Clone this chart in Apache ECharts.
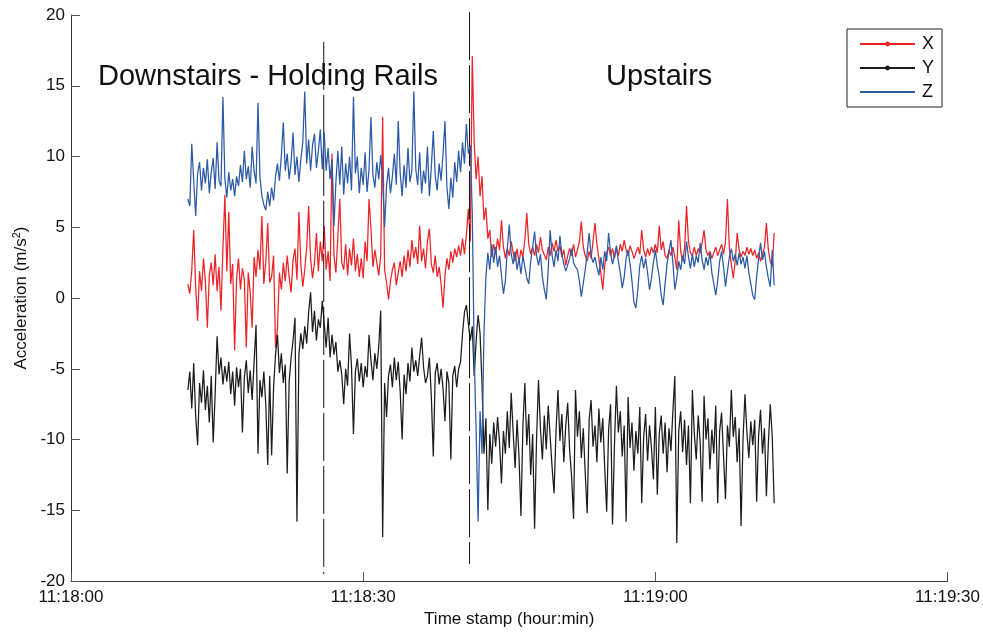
<!DOCTYPE html>
<html>
<head>
<meta charset="utf-8">
<script src="https://cdn.jsdelivr.net/npm/echarts@6/dist/echarts.min.js"></script>
<style>
html,body{margin:0;padding:0;background:#fff;}
#chart{width:983px;height:633px;}
</style>
</head>
<body>
<div id="chart"></div>
<script>
// sampling of the recorded signals (seconds after 11:18:00)
const sampleStart = 12.0;
const sampleStep = 0.2;

const accX = [
1.0, 0.3, 2.0, 4.8, 0.8, -1.6, 1.9, 0.5, 2.8, 1.2,
-2.1, 1.6, 2.5, 0.9, 3.1, 0.5, 2.2, -0.9, 3.5, 7.3,
1.9, 6.1, 1.0, 2.4, -3.7, 1.4, 2.8, 0.6, 2.1, 1.3,
-3.5, 1.8, 0.4, -2.1, 2.9, 1.5, 3.4, 2.0, 5.8, 1.0,
2.6, 5.3, 1.1, 1.5, 3.0, -3.5, -2.1, 1.8, 0.6, 2.5,
1.2, 3.0, 1.5, 0.4, 2.7, 3.5, 1.3, 6.1, 2.4, 0.8,
2.0, 3.6, 6.5, 2.8, 1.4, 2.5, 4.6, 1.9, 4.0, 2.6,
5.1, 2.0, 3.3, 1.2, 10.2, 3.0, 1.8, 4.4, 7.0, 2.5,
2.0, 3.8, 1.6, 3.5, 2.3, 4.2, 1.9, 3.1, 1.5, 2.8,
1.4, 4.0, 2.6, 7.0, 4.9, 2.2, 3.4, 2.5, 1.6, 3.0,
12.8, 2.0, 1.1, -0.1, 1.2, 2.0, 2.5, 0.9, 1.8, 2.6,
1.5, 3.0, 1.9, 3.4, 2.2, 4.1, 2.8, 3.6, 2.4, 5.1,
2.6, 3.5, 2.1, 4.0, 4.9, 2.4, 1.8, 3.0, 1.5, 2.2,
1.0, -0.7, 1.6, 2.8, 2.0, 3.3, 2.5, 3.5, 2.9, 3.7,
3.0, 4.2, 3.1, 4.5, 6.3, 4.0, 17.1, 11.0, 8.4, 10.0,
7.2, 8.6, 5.5, 6.4, 4.2, 4.8, 2.9, 3.8, 3.1, 4.2,
3.4, 5.5, 3.6, 2.8, 3.5, 3.0, 4.0, 3.2, 2.6, 3.5,
2.5, 3.4, 2.9, 4.1, 6.0, 3.8, 3.1, 3.6, 3.0, 3.8,
3.2, 4.3, 3.4, 3.5, 2.7, 3.6, 3.0, 3.9, 3.3, 4.1,
3.3, 3.7, 2.9, 3.4, 2.3, 3.0, 3.5, 3.0, 3.8, 2.9,
3.4, 4.0, 5.4, 3.6, 3.0, 2.6, 3.3, 2.8, 4.0, 5.3,
3.8, 2.8, 1.8, 0.6, 2.3, 3.2, 3.6, 3.0, 3.5, 2.8,
3.5, 3.0, 3.8, 3.3, 4.1, 3.4, 3.0, 3.7, 3.3, 2.8,
3.2, 3.6, 3.1, 4.8, 3.4, 2.9, 3.5, 3.0, 3.6, 3.2,
3.8, 3.2, 5.1, 3.4, 4.0, 3.0, 2.8, 3.4, 3.0, 3.6,
2.9, 2.0, 5.5, 3.3, 2.6, 3.5, 6.5, 4.0, 3.2, 3.0,
3.6, 3.0, 3.5, 3.2, 3.9, 4.8, 3.4, 3.0, 3.3, 2.8,
3.2, 3.6, 3.0, 3.4, 3.8, 3.1, 4.0, 7.0, 3.5, 2.4,
1.4, 2.6, 4.6, 3.4, 2.9, 3.3, 3.0, 3.6, 3.1, 3.5,
3.0, 3.4, 2.8, 3.2, 2.6, 3.1, 3.6, 5.3, 3.4, 2.6,
2.2, 4.6
];

const accY = [
-6.5, -5.2, -7.8, -4.6, -8.3, -10.4, -6.0, -7.4, -5.1, -7.9,
-6.2, -8.8, -5.5, -10.2, -6.8, -2.7, -5.4, -4.2, -6.1, -4.8,
-5.9, -4.5, -6.8, -5.2, -7.6, -4.9, -6.3, -5.0, -9.5, -5.6,
-4.4, -6.7, -5.1, -7.2, -4.5, -1.9, -11.0, -5.8, -7.0, -5.2,
-7.5, -11.8, -5.5, -11.1, -6.3, -4.0, -2.6, -5.3, -3.9, -6.0,
-4.7, -12.4, -5.9, -4.2, -3.0, -1.4, -15.8, -4.0, -2.5, -3.6,
-2.0, -3.2, -1.0, 0.4, -2.4, -0.9, -3.0, -1.5, -2.1, -0.2,
-1.8, -3.5, -1.4, -4.2, -2.6, -4.0, -3.1, -5.2, -4.4, -5.4,
-7.5, -5.0, -6.2, -2.5, -4.8, -9.6, -5.2, -4.3, -5.9, -4.6,
-6.3, -4.8, -5.6, -2.6, -4.4, -5.8, -3.9, -5.0, -3.4, -0.9,
-16.9, -6.0, -8.4, -5.5, -4.7, -6.3, -4.2, -5.8, -4.5, -6.6,
-10.0, -5.4, -6.8, -4.6, -5.9, -3.5, -5.2, -4.4, -5.5, -4.1,
-2.8, -4.9, -6.0, -5.5, -4.2, -7.0, -11.2, -5.3, -4.6, -6.1,
-5.0, -6.4, -8.7, -5.2, -6.0, -11.4, -5.5, -4.8, -6.3, -5.0,
-4.5, -2.5, -1.0, -0.5, -1.8, -3.0, -2.0, -5.5, -3.0, -1.2,
-2.5, -6.0, -11.0, -8.5, -15.0, -9.6, -11.7, -8.8, -10.5, -8.4,
-10.2, -13.1, -9.4, -11.0, -8.0, -10.6, -6.7, -9.5, -12.0, -8.6,
-11.2, -15.4, -9.0, -6.0, -10.4, -8.2, -12.5, -9.6, -16.3, -10.0,
-5.8, -9.2, -11.4, -8.3, -10.7, -7.6, -9.8, -12.0, -13.8, -9.4,
-6.5, -10.1, -8.2, -11.6, -9.0, -7.4, -10.8, -12.6, -15.6, -6.5,
-9.8, -8.0, -11.3, -9.2, -12.4, -15.2, -8.6, -7.2, -10.5, -9.0,
-11.6, -7.8, -10.2, -8.5, -12.0, -15.1, -9.3, -7.5, -16.0, -10.4,
-6.2, -9.5, -8.0, -11.2, -9.0, -15.8, -7.0, -10.6, -8.8, -12.2,
-9.4, -11.0, -7.7, -14.5, -9.8, -8.2, -11.5, -9.0, -10.6, -12.8,
-7.7, -13.9, -9.6, -8.3, -11.0, -8.8, -12.3, -9.2, -10.8, -8.0,
-5.5, -17.3, -9.4, -8.0, -10.9, -8.6, -11.8, -9.0, -14.5, -6.5,
-9.6, -11.4, -8.3, -10.2, -14.4, -6.9, -10.0, -8.5, -12.1, -9.3,
-11.0, -7.6, -14.5, -9.4, -8.1, -11.2, -14.2, -9.0, -10.5, -6.5,
-9.8, -8.4, -11.6, -9.2, -16.1, -10.0, -6.8, -9.5, -11.3, -8.7,
-10.4, -8.6, -14.4, -9.7, -7.9, -11.0, -9.2, -14.0, -10.3, -7.5,
-9.8, -14.5
];

const accZ = [
7.0, 6.5, 10.9, 8.3, 5.8, 8.8, 9.6, 7.6, 9.2, 8.1,
9.8, 7.4, 8.9, 9.9, 7.7, 11.0, 8.3, 7.9, 14.2, 8.4,
7.1, 8.9, 7.6, 8.4, 7.2, 8.6, 7.9, 9.4, 8.2, 10.4,
8.4, 9.3, 7.8, 10.7, 9.0, 8.1, 13.8, 8.6, 7.2, 6.6,
6.2, 7.5, 6.5, 7.8, 6.9, 8.6, 9.5, 8.3, 10.1, 12.4,
9.0, 10.2, 8.4, 9.6, 11.7, 8.7, 10.0, 8.2, 9.8, 11.0,
14.6, 9.5, 11.2, 9.0, 10.8, 11.6, 9.2, 10.4, 11.9, 9.1,
11.7, 9.0, 10.6, 8.4, 9.8, 5.1, 8.2, 10.4, 8.0, 10.7,
7.3, 9.5, 8.1, 10.0, 7.6, 14.2, 8.8, 10.0, 7.4, 9.2,
8.0, 10.3, 7.5, 9.1, 12.8, 8.7, 7.8, 9.6, 8.4, 10.1,
8.3, 5.0, 7.9, 9.2, 7.4, 8.6, 10.2, 8.0, 12.5, 8.8,
7.2, 9.4, 7.8, 10.6, 8.2, 9.0, 14.6, 9.1, 8.0, 10.3,
7.4, 9.0, 8.1, 10.7, 7.2, 9.3, 11.8, 8.6, 7.6, 9.5,
8.3, 10.2, 12.5, 7.8, 6.3, 8.5, 7.1, 9.6, 8.2, 10.4,
8.9, 11.0, 9.5, 12.3, 10.2, 10.8, 6.0, -4.0, -9.5, -15.8,
-8.0, -11.0, -2.5, 1.5, 3.2, 2.0, 3.8, 2.5, 3.6, 2.2,
3.0, 1.6, 0.3, 1.2, 3.5, 5.2, 3.1, 2.4, 3.3, 2.0,
2.8, 1.7, 3.0, 2.2, 1.4, 1.0, 2.6, 3.6, 4.7, 3.0,
2.3, 3.1, 1.5, 0.6, -0.1, 2.0, 4.8, 3.0, 2.2, 3.4,
2.6, 4.4, 3.1, 2.4, 1.9, 1.8, 2.8, 3.5, 2.5, 2.2,
2.0, 1.2, 0.1, 0.0, 2.0, 3.2, 4.6, 3.0, 2.5, 2.9,
2.2, 1.6, 2.9, 2.0, 3.3, 2.6, 4.6, 3.2, 2.4, 3.0,
3.7, 2.6, 1.8, 0.7, 1.5, 2.8, 3.4, 2.4, 1.2, -0.3,
-0.7, 0.6, 2.3, 3.0, 2.1, 2.8, 1.8, 0.6, 1.4, 2.5,
3.4, 2.3, 1.5, 0.2, -0.5, 1.0, 2.4, 3.3, 4.1, 2.5,
0.6, 1.4, 2.6, 2.0, 3.0, 2.4, 4.0, 2.9, 2.1, 3.1,
2.2, 3.0, 2.5, 3.9, 2.7, 2.0, 2.9, 2.3, 3.2, 1.8,
1.0, 0.2, 1.2, 2.6, 3.3, 2.2, 0.8, 1.9, 2.9, 3.5,
2.6, 3.1, 2.3, 3.2, 2.4, 2.9, 2.1, 3.0, 1.8, 1.0,
0.2, -0.1, 1.5, 2.8, 3.9, 2.7, 3.3, 2.2, 1.4, 0.8,
3.4, 0.9
];

// vertical event marker lines (time in s after 11:18:00, top and bottom values)
const markerTimes = [25.95, 40.92];
const markerTop = [18.1, 20.2];
const markerBottom = [-19.5, -18.8];

const xTickLabels = ['11:18:00', '11:18:30', '11:19:00', '11:19:30'];
const yTicks = { min: -20, max: 20, step: 5 };
const xTicks = { min: 0, max: 90, step: 30 };

const seriesColors = ['#ec2327', '#1c1c1c', '#2b5aa6'];

function toPoints(arr) {
  return arr.map((v, i) => [sampleStart + i * sampleStep, v]);
}

const FONT = '"Liberation Sans", Arial, Helvetica, sans-serif';
const LW = 1.25;

const series = [
  {
    name: 'X', type: 'line', data: toPoints(accX),
    symbol: 'circle', symbolSize: 5, showSymbol: false,
    lineStyle: { width: LW, color: seriesColors[0] }, itemStyle: { color: seriesColors[0] },
    animation: false, silent: true
  },
  {
    name: 'Y', type: 'line', data: toPoints(accY),
    symbol: 'circle', symbolSize: 5, showSymbol: false,
    lineStyle: { width: LW, color: seriesColors[1] }, itemStyle: { color: seriesColors[1] },
    animation: false, silent: true
  }
];
markerTimes.forEach((t, k) => {
  series.push({
    name: 'marker' + k, type: 'line',
    data: [[t, markerTop[k]], [t, markerBottom[k]]],
    symbol: 'none', clip: false,
    lineStyle: { width: 1, color: '#111', type: [48, 5] },
    animation: false, silent: true
  });
});
series.push({
  name: 'Z', type: 'line', data: toPoints(accZ),
  symbol: 'none', showSymbol: false,
  lineStyle: { width: LW, color: seriesColors[2] }, itemStyle: { color: seriesColors[2] },
  animation: false, silent: true
});

const chart = echarts.init(document.getElementById('chart'), null, { renderer: 'canvas' });
chart.setOption({
  backgroundColor: '#fff',
  animation: false,
  textStyle: { fontFamily: FONT },
  grid: { left: 71, right: 35, top: 15, bottom: 48, containLabel: false },
  legend: {
    data: [
      { name: 'X' },
      { name: 'Y' },
      { name: 'Z', itemStyle: { color: 'rgba(0,0,0,0)', borderWidth: 0 } }
    ],
    orient: 'vertical',
    right: 41, top: 29,
    itemWidth: 55, itemHeight: 6, itemGap: 6,
    padding: [6, 8, 6, 12],
    borderColor: '#222', borderWidth: 1,
    backgroundColor: '#fff',
    selectedMode: false,
    textStyle: { fontFamily: FONT, fontSize: 18, color: '#111', padding: [0, 0, 0, 2] }
  },
  xAxis: {
    type: 'value', min: xTicks.min, max: xTicks.max, interval: xTicks.step,
    name: 'Time stamp (hour:min)', nameLocation: 'middle', nameGap: 29,
    nameTextStyle: { fontFamily: FONT, fontSize: 17, color: '#111' },
    axisLine: { show: true, onZero: false, lineStyle: { color: '#333', width: 1 } },
    axisTick: { show: true, inside: true, length: 9, lineStyle: { color: '#555' } },
    axisLabel: {
      fontFamily: FONT, fontSize: 17, color: '#111', margin: 8,
      formatter: v => xTickLabels[Math.round((v - xTicks.min) / xTicks.step)] || ''
    },
    splitLine: { show: false }
  },
  yAxis: {
    type: 'value', min: yTicks.min, max: yTicks.max, interval: yTicks.step,
    name: 'Acceleration (m/s{sup|2})', nameLocation: 'middle', nameGap: 40, nameRotate: 90,
    nameTextStyle: {
      fontFamily: FONT, fontSize: 17, color: '#111',
      rich: { sup: { fontFamily: FONT, fontSize: 11, color: '#111', verticalAlign: 'top', padding: [0, 0, 8, 0] } }
    },
    axisLine: { show: true, onZero: false, lineStyle: { color: '#333', width: 1 } },
    axisTick: { show: true, inside: true, length: 9, lineStyle: { color: '#555' } },
    axisLabel: { fontFamily: FONT, fontSize: 17, color: '#111', margin: 6 },
    splitLine: { show: false }
  },
  graphic: [
    { type: 'text', left: 98, top: 62, silent: true,
      style: { text: 'Downstairs - Holding Rails', font: '29px ' + FONT, fill: '#111' } },
    { type: 'text', left: 606, top: 62, silent: true,
      style: { text: 'Upstairs', font: '29px ' + FONT, fill: '#111' } }
  ],
  series: series
});
</script>
</body>
</html>
